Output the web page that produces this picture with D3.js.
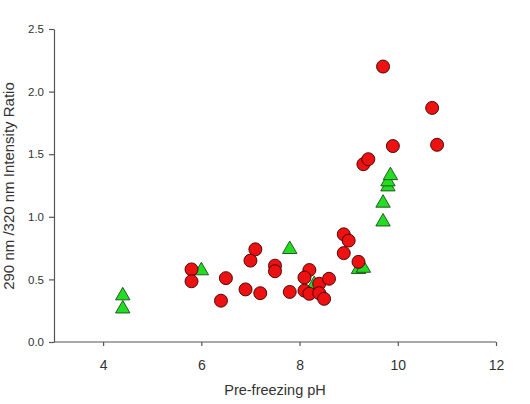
<!DOCTYPE html>
<html>
<head>
<meta charset="utf-8">
<script src="https://cdn.jsdelivr.net/npm/d3@7"></script>
<style>
  html, body { margin: 0; padding: 0; background: #fff; }
  svg { display: block; }
  text { font-family: "Liberation Sans", Arial, sans-serif; }
</style>
</head>
<body>
<svg id="chart" width="530" height="404"></svg>
<script>
// Data
const circleX = [9.7, 10.7, 9.9, 10.8, 9.3, 9.4, 8.9, 9.0, 8.9, 9.2, 7.1, 7.0, 7.5, 7.5, 5.8, 5.8, 6.5, 6.4, 6.9, 7.2, 7.8, 8.2, 8.1, 8.1, 8.2, 8.4, 8.4, 8.5, 8.6];
const circleY = [2.20, 1.87, 1.565, 1.575, 1.42, 1.46, 0.86, 0.81, 0.71, 0.64, 0.74, 0.65, 0.61, 0.565, 0.58, 0.485, 0.51, 0.33, 0.42, 0.39, 0.40, 0.575, 0.515, 0.41, 0.385, 0.465, 0.39, 0.345, 0.505];
const triangleX = [4.4, 4.4, 6.0, 7.8, 8.3, 9.2, 9.3, 9.7, 9.7, 9.8, 9.8, 9.85];
const triangleY = [0.37, 0.265, 0.57, 0.74, 0.46, 0.58, 0.59, 0.96, 1.11, 1.24, 1.28, 1.33];
const xTicks = [4, 6, 8, 10, 12];
const yTicks = [0.0, 0.5, 1.0, 1.5, 2.0, 2.5];
const xTitle = "Pre-freezing pH";
const yTitle = "290 nm /320 nm Intensity Ratio";

const svg = d3.select("#chart");
const mLeft = 54, mRight = 496, mTop = 29, mBottom = 342;
const x = d3.scaleLinear().domain([3, 12]).range([mLeft, mRight]);
const y = d3.scaleLinear().domain([0, 2.5]).range([mBottom, mTop]);
const axisColor = "#555";
const textColor = "#333";

// X axis
const gx = svg.append("g").attr("transform", `translate(0,${mBottom})`)
  .call(d3.axisBottom(x).tickValues(xTicks).tickFormat(d3.format("d")).tickSize(4).tickSizeOuter(0));
gx.select(".domain").attr("stroke", axisColor).attr("stroke-width", 1.2).attr("d", `M${mLeft},0H${mRight}`);
gx.selectAll(".tick line").attr("stroke", axisColor).attr("stroke-width", 1.2);
gx.selectAll(".tick text").attr("fill", textColor).attr("font-size", 14).attr("dy", "1.5em");

// Y axis
const gy = svg.append("g").attr("transform", `translate(${mLeft},0)`)
  .call(d3.axisLeft(y).tickValues(yTicks).tickFormat(d3.format(".1f")).tickSize(5).tickSizeOuter(0));
gy.select(".domain").attr("stroke", axisColor).attr("stroke-width", 1.2);
gy.selectAll(".tick line").attr("stroke", axisColor).attr("stroke-width", 1.2);
gy.selectAll(".tick text").attr("fill", textColor).attr("font-size", 11.5).attr("x", -10);

// Titles
svg.append("text").attr("x", 275).attr("y", 395).attr("text-anchor", "middle")
  .attr("font-size", 14.5).attr("fill", textColor).text(xTitle);
svg.append("text").attr("transform", `translate(14,186) rotate(-90)`).attr("text-anchor", "middle")
  .attr("font-size", 15).attr("fill", textColor).text(yTitle);

// Triangles (drawn first, circles on top)
const tri = d3.symbol().type(d3.symbolTriangle).size(90);
svg.append("g").selectAll("path").data(triangleX.map((v, i) => [v, triangleY[i]]))
  .join("path")
  .attr("d", tri)
  .attr("transform", d => `translate(${x(d[0])},${y(d[1])})`)
  .attr("fill", "#22dd22").attr("stroke", "#1a4a1a").attr("stroke-width", 0.9);

// Circles
svg.append("g").selectAll("circle").data(circleX.map((v, i) => [v, circleY[i]]))
  .join("circle")
  .attr("cx", d => x(d[0])).attr("cy", d => y(d[1])).attr("r", 6.5)
  .attr("fill", "#ee1111").attr("stroke", "#3a0000").attr("stroke-width", 0.9);
</script>
</body>
</html>
